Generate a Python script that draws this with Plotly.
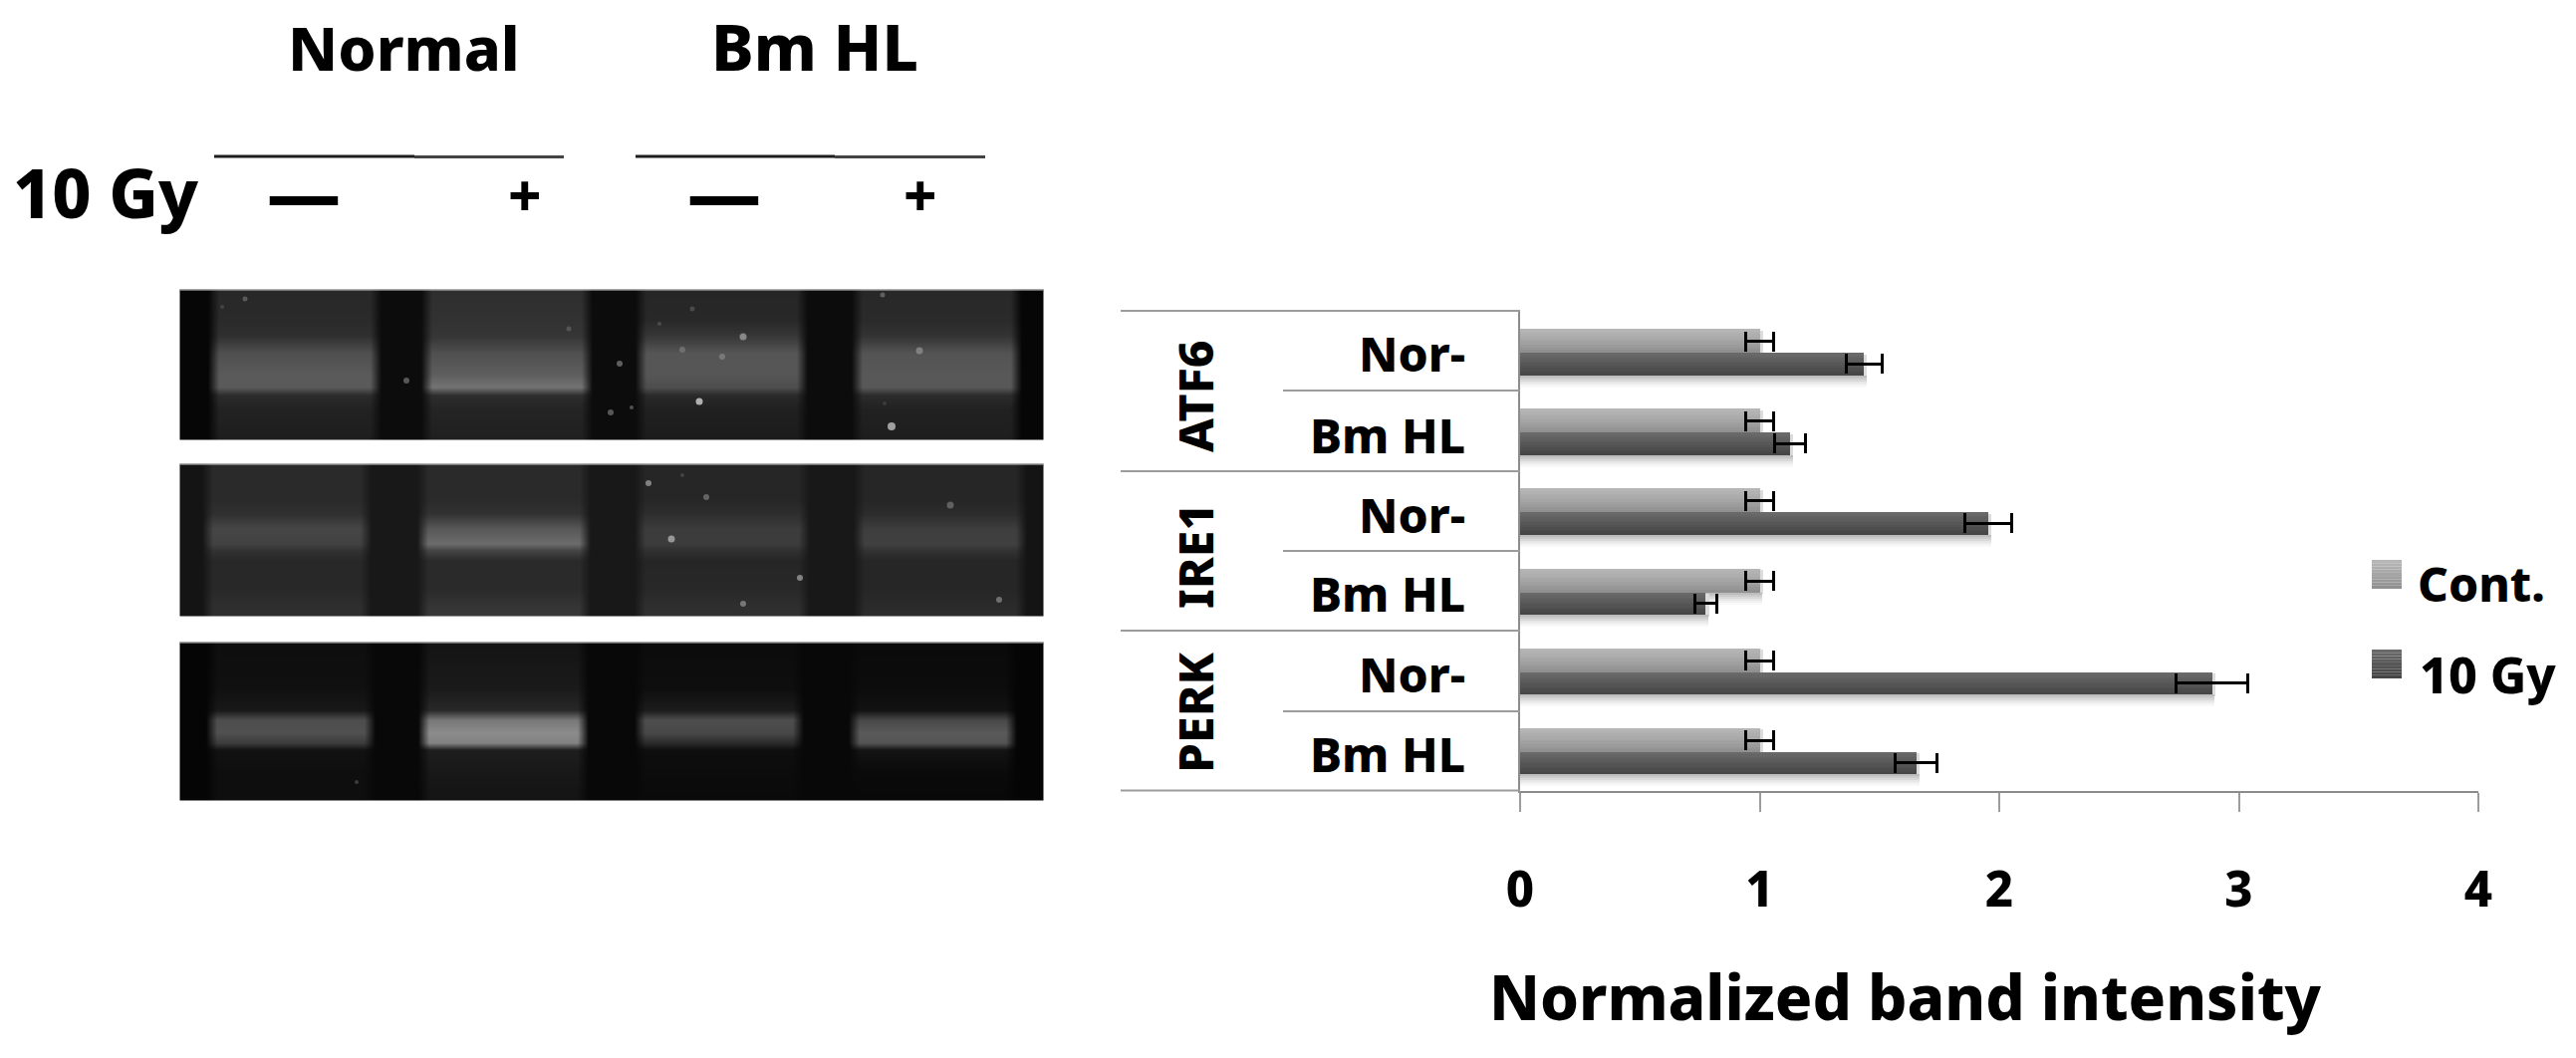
import plotly.graph_objects as go

# ---- chart data ----
groups = ["ATF6", "IRE1", "PERK"]
subgroups = ["Nor-", "Bm HL", "Nor-", "Bm HL", "Nor-", "Bm HL"]
cont_values = [1.0, 1.0, 1.0, 1.0, 1.0, 1.0]
cont_errors = [0.06, 0.06, 0.06, 0.06, 0.06, 0.06]
gy_values = [1.435, 1.127, 1.954, 0.775, 2.888, 1.654]
gy_errors = [0.075, 0.065, 0.098, 0.045, 0.148, 0.0875]
x_ticks = [0, 1, 2, 3, 4]

# ---- gel panels (grey level of each lane at each row) ----
gel_a_rows = [291, 320, 337, 354, 375, 388, 396, 410, 441]
gel_a_lanes = [
    [40, 42, 48, 80, 90, 90, 44, 34, 30],
    [46, 50, 54, 80, 94, 115, 46, 36, 32],
    [38, 40, 56, 86, 86, 78, 42, 32, 28],
    [40, 42, 52, 84, 88, 88, 44, 33, 30],
]
gel_a_edges = [(214, 376), (428, 588), (643, 804), (860, 1019)]
gel_a_gap, gel_a_outer = 12, 6

gel_b_rows = [466, 500, 515, 530, 545, 552, 562, 590, 605, 618]
gel_b_lanes = [
    [42, 42, 48, 70, 66, 50, 40, 40, 46, 46],
    [42, 42, 50, 88, 108, 68, 42, 42, 52, 56],
    [38, 38, 46, 60, 60, 48, 38, 40, 46, 48],
    [38, 38, 44, 62, 64, 50, 38, 38, 42, 44],
]
gel_b_edges = [(208, 366), (424, 586), (642, 806), (862, 1024)]
gel_b_gap, gel_b_outer = 24, 20

gel_c_rows = [645, 690, 712, 722, 735, 745, 752, 775, 803]
gel_c_lanes = [
    [14, 16, 24, 78, 80, 60, 18, 14, 14],
    [20, 26, 40, 120, 140, 130, 30, 24, 20],
    [12, 14, 28, 78, 72, 42, 14, 12, 10],
    [10, 12, 18, 72, 90, 84, 20, 10, 8],
]
gel_c_edges = [(212, 370), (425, 584), (642, 800), (857, 1014)]
gel_c_gap, gel_c_outer = 8, 5

speck_x = [246, 223, 746, 702, 895, 923, 725, 685, 622, 613, 634, 408, 886, 695, 662, 571, 888,
           651, 709, 954, 674, 803, 746, 1003, 685, 358]
speck_y = [300, 308, 338, 403, 428, 352, 358, 351, 365, 414, 409, 382, 296, 310, 325, 330, 405,
           485, 499, 507, 541, 580, 606, 602, 477, 785]
speck_size = [5, 4, 7, 7, 8, 7, 6, 6, 6, 6, 4, 6, 5, 5, 4, 5, 4,
              6, 6, 7, 7, 6, 6, 6, 4, 4]
speck_grey = [110, 80, 170, 235, 215, 150, 135, 125, 130, 120, 110, 120, 120, 90, 90, 100, 70,
              170, 125, 120, 190, 170, 150, 140, 80, 80]

# ---- styling ----
FONT = "Noto Sans"
WEIGHT = 800
CONT_SHADES = ["#b6b6b6", "#b2b2b2", "#aeaeae", "#aaaaaa", "#a5a5a5", "#a0a0a0", "#9b9b9b", "#959595", "#909090"]
GY_SHADES = ["#696969", "#656565", "#606060", "#5c5c5c", "#575757", "#535353", "#4e4e4e", "#4a4a4a", "#464646"]
SHADOW_SHADES = ["#bdbdbd", "#cbcbcb", "#d9d9d9", "#e6e6e6", "#f1f1f1", "#f9f9f9"]
LINE = "#9c9c9c"
PX_GROUP = 80.17

fig = go.Figure()
rows_idx = list(range(6))


def add_bar(vals, pos, width, color, **kw):
    fig.add_trace(go.Bar(orientation="h", x=vals, y=[i + pos for i in rows_idx], width=width,
                         marker=dict(color=color, line=dict(width=0)),
                         showlegend=False, hoverinfo="skip", **kw))


def add_series(vals, shades, top_px, height_px):
    strip = height_px / len(shades) / PX_GROUP
    top = top_px / PX_GROUP
    # soft drop shadow under and to the right of the bar
    add_bar([v + 0.014 for v in vals], top + height_px / PX_GROUP / 2 + 1.5 / PX_GROUP,
            height_px / PX_GROUP, "#dcdcdc")
    for k, c in enumerate(SHADOW_SHADES):
        add_bar([v + 0.012 for v in vals], top + height_px / PX_GROUP + (k + 0.5) * 2 / PX_GROUP,
                2 / PX_GROUP, c)
    return strip, top


strip_c, top_c = add_series(cont_values, CONT_SHADES, 17, 24)
for k, c in enumerate(CONT_SHADES):
    add_bar(cont_values, top_c + (k + 0.5) * strip_c, strip_c, c)
strip_g, top_g = add_series(gy_values, GY_SHADES, 41, 22.5)
for k, c in enumerate(GY_SHADES):
    add_bar(gy_values, top_g + (k + 0.5) * strip_g, strip_g, c)

# error bars
for vals, errs, pos in [(cont_values, cont_errors, 29.5 / PX_GROUP), (gy_values, gy_errors, 52 / PX_GROUP)]:
    fig.add_trace(go.Bar(orientation="h", x=vals, y=[i + pos for i in rows_idx], width=0.1,
                         marker=dict(color="rgba(0,0,0,0)", line=dict(width=0)),
                         error_x=dict(type="data", array=errs, visible=True, color="#000000",
                                      thickness=3, width=10),
                         showlegend=False, hoverinfo="skip"))


# gels, on a pixel-sized overlay axis
def gel(rows, lanes, edges, gap, outer):
    xs = [181, 182]
    cols = [None, None]
    for n, (s, e) in enumerate(edges):
        xs += [s - 6, s + 5, e - 5, e + 6]
        cols += ["g", n, n, "g"]
    xs += [1046, 1047]
    cols += [None, None]
    ys = [rows[0], rows[0] + 1] + rows[1:-1] + [rows[-1] - 1, rows[-1]]
    profile_idx = [0, 0] + list(range(1, len(rows) - 1)) + [len(rows) - 1, len(rows) - 1]
    z = []
    for r in profile_idx:
        row = []
        for i, c in enumerate(cols):
            if c is None or (c == "g" and (i == 2 or i == len(cols) - 3)):
                row.append(outer)
            elif c == "g":
                row.append(gap)
            else:
                row.append(lanes[c][r])
        z.append(row)
    fig.add_trace(go.Heatmap(x=xs, y=ys, z=z, xaxis="x2", yaxis="y2", zmin=0, zmax=255, zsmooth="best",
                             colorscale=[[0, "rgb(0,0,0)"], [1, "rgb(255,255,255)"]],
                             showscale=False, hoverinfo="skip"))


gel(gel_a_rows, gel_a_lanes, gel_a_edges, gel_a_gap, gel_a_outer)
gel(gel_b_rows, gel_b_lanes, gel_b_edges, gel_b_gap, gel_b_outer)
gel(gel_c_rows, gel_c_lanes, gel_c_edges, gel_c_gap, gel_c_outer)

fig.add_trace(go.Scatter(x=speck_x, y=speck_y, mode="markers", xaxis="x2", yaxis="y2",
                         marker=dict(size=speck_size, color=[f"rgb({g},{g},{g})" for g in speck_grey],
                                     line=dict(width=0)),
                         showlegend=False, hoverinfo="skip"))

shapes = []


def seg(x0, y0, x1, y1, color=LINE, width=2):
    shapes.append(dict(type="line", xref="x2", yref="y2", x0=x0, y0=y0, x1=x1, y1=y1,
                       line=dict(color=color, width=width)))


# table rules left of the axis
for y in [312, 473, 633, 793.5]:
    seg(1125, y, 1526, y)
for y in [392, 553, 714]:
    seg(1288, y, 1526, y)
# treatment rules above the gels
seg(215, 157, 416, 157, "#1c1c1c", 3)
seg(416, 157.5, 566, 157.5, "#444444", 3)
seg(638, 157, 838, 157, "#1c1c1c", 3)
seg(838, 157.5, 989, 157.5, "#444444", 3)
# light top edge of each gel
for y in [291, 466, 645]:
    seg(181, y, 1047, y, "#c8c8c8", 1)
# legend swatches
for y0, shades in [(562, CONT_SHADES), (652, GY_SHADES)]:
    h = 29 / len(shades)
    for k, c in enumerate(shades):
        shapes.append(dict(type="rect", xref="x2", yref="y2", x0=2381, x1=2411, y0=y0 + k * h, y1=y0 + (k + 1) * h,
                           fillcolor=c, line=dict(width=0)))

annotations = []


def text(t, x, y, size, anchor="center", angle=0):
    annotations.append(dict(text=t, x=x, y=y, xref="x2", yref="y2", showarrow=False, xanchor=anchor,
                            yanchor="middle", textangle=angle,
                            font=dict(family=FONT, size=size, color="#000000", weight=WEIGHT)))


text("Normal", 405, 47, 61)
text("Bm HL", 818, 46, 64)
text("10 Gy", 106, 192, 68)
text("—", 305, 192, 74)
text("+", 527, 195, 58)
text("—", 727, 192, 74)
text("+", 924, 195, 58)
for g, yc in zip(groups, [398, 558, 715]):
    text(g, 1199, yc, 48, angle=-90)
for s, yc in zip(subgroups, [354, 436, 516, 595, 676, 756]):
    text(s, 1473, yc, 48, anchor="right")
text("Cont.", 2425, 585, 48, anchor="left")
text("10 Gy", 2427, 677, 50, anchor="left")
text("Normalized band intensity", 1913, 1000, 62)

fig.update_layout(
    width=2586, height=1062, autosize=False,
    margin=dict(l=0, r=0, t=0, b=0, autoexpand=False),
    paper_bgcolor="#ffffff", plot_bgcolor="rgba(0,0,0,0)",
    barmode="overlay", bargap=0, showlegend=False,
    shapes=shapes, annotations=annotations,
    xaxis=dict(domain=[1526 / 2586, 2488 / 2586], range=[0, 4], anchor="y",
               tickvals=x_ticks, ticktext=[str(t) for t in x_ticks],
               ticks="outside", ticklen=19, tickwidth=2, tickcolor=LINE,
               showline=True, linecolor="#8c8c8c", linewidth=2, showgrid=False, zeroline=False,
               ticklabelstandoff=36,
               tickfont=dict(family=FONT, size=49, color="#000000", weight=WEIGHT)),
    yaxis=dict(domain=[(1062 - 794) / 1062, (1062 - 313) / 1062], range=[6, 0], anchor="x",
               showticklabels=False, ticks="", showline=True, linecolor="#8c8c8c", linewidth=2,
               showgrid=False, zeroline=False),
    xaxis2=dict(domain=[0, 1], range=[0, 2586], anchor="y2", visible=False, fixedrange=True),
    yaxis2=dict(domain=[0, 1], range=[1062, 0], anchor="x2", visible=False, fixedrange=True),
)

fig.write_html("out.html", post_script="document.body.style.margin='0';document.body.style.overflow='hidden';",
               config=dict(displayModeBar=False))
